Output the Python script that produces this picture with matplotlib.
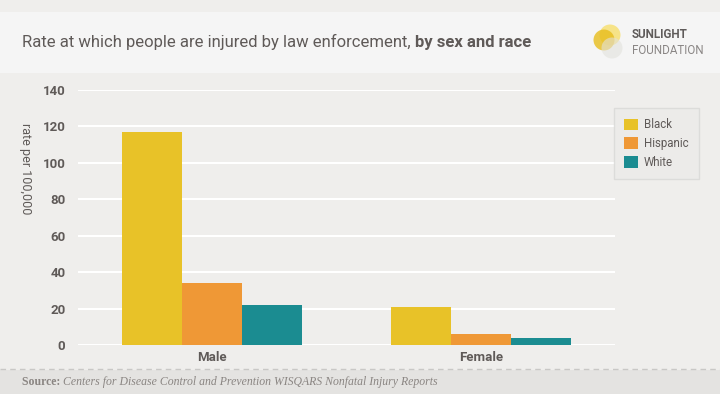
import matplotlib
matplotlib.use("Agg")
import matplotlib.pyplot as plt
from matplotlib.patches import Rectangle, Circle
from matplotlib.lines import Line2D
import numpy as np

# data
sexes = ["Male", "Female"]
races = ["Black", "Hispanic", "White"]
black = [116.7, 21.0]
hispanic = [34.2, 5.9]
white = [21.8, 3.7]
yticks = [0, 20, 40, 60, 80, 100, 120, 140]

colors = ["#e8c228", "#ef9836", "#1b8c91"]
bg = "#efeeec"
txt = "#5f5a58"
sans = ["Roboto", "DejaVu Sans"]

fig = plt.figure(figsize=(7.2, 3.94), dpi=100, facecolor=bg)
renderer = fig.canvas.get_renderer()

# title band
fig.patches.append(Rectangle((0, 0.815), 1, 0.155, transform=fig.transFigure,
                             facecolor="#f5f5f5", edgecolor="none", zorder=0))
t1 = fig.text(22/720, 0.893, "Rate at which people are injured by law enforcement, ",
              fontsize=12, color=txt, va="center", family=sans)
w1 = t1.get_window_extent(renderer).width
fig.text(22/720 + w1/720, 0.893, "by sex and race", fontsize=12, color=txt, va="center",
         fontweight="bold", family=sans)

# logo (pixel positions -> inches)
for (cx, cy, c, a) in [(610, 35, "#f7dc5a", 0.7), (604, 40, "#e8bd1c", 0.8), (612, 48, "#e2e2dc", 0.6)]:
    fig.patches.append(Circle((cx/100, (394-cy)/100), 0.105, transform=fig.dpi_scale_trans,
                              facecolor=c, alpha=a, edgecolor="none", zorder=1))
fig.text(632/720, 1-35/394, "SUNLIGHT", fontsize=8.4, fontweight="bold", color="#5f5b5a",
         va="center", family=sans)
fig.text(632/720, 1-50/394, "FOUNDATION", fontsize=8.4, color="#8a8685",
         va="center", family=sans)

# footer band
fig.patches.append(Rectangle((0, 0), 1, 24/394, transform=fig.transFigure,
                             facecolor="#e4e3e1", edgecolor="none", zorder=0))
fig.lines.append(Line2D([0, 1], [25/394, 25/394], transform=fig.transFigure,
                        color="#c9c8c6", lw=1, ls=(0, (4, 3))))
s1 = fig.text(22/720, 12/394, "Source: ", fontsize=8.5, fontweight="bold", color="#8a8582",
              va="center", family="Liberation Serif")
ws = s1.get_window_extent(renderer).width
fig.text(22/720 + ws/720, 12/394,
         "Centers for Disease Control and Prevention WISQARS Nonfatal Injury Reports",
         fontsize=8.5, style="italic", color="#8a8582", va="center", family="Liberation Serif")

ax = fig.add_axes([78/720, 1-345/394, (615-78)/720, (345-90)/394])
ax.set_facecolor(bg)

x = np.arange(len(sexes))
w = 0.224
for i, (vals, name) in enumerate(zip([black, hispanic, white], races)):
    ax.bar(x + (i-1)*w, vals, w, color=colors[i], label=name, zorder=3)

ax.set_xlim(-0.5, 1.5)
ax.set_ylim(0, 140)
ax.set_yticks(yticks)
ax.set_xticks(x)
ax.set_xticklabels(sexes)
ax.grid(axis="y", color="white", lw=1.5, zorder=1)
for s in ax.spines.values():
    s.set_visible(False)
ax.tick_params(length=0, colors=txt, labelsize=9.5)
ax.tick_params(axis="y", pad=9)
ax.tick_params(axis="x", pad=4)
for lab in ax.get_xticklabels() + ax.get_yticklabels():
    lab.set_fontweight("bold")
    lab.set_family(sans)
ax.set_ylabel("rate per 100,000", rotation=-90, color=txt, fontsize=9, family=sans)
ax.yaxis.set_label_coords(-0.11, 0.69)

leg = fig.legend(loc="upper left", bbox_to_anchor=(614/720, 1-108/394), frameon=True,
                 prop={"family": sans, "size": 8.3}, handlelength=1.2, handleheight=1.2,
                 borderpad=0.9, labelspacing=0.5, handletextpad=0.5, fancybox=False,
                 borderaxespad=0)
leg.get_frame().set_facecolor("#ecebe9")
leg.get_frame().set_edgecolor("#d8d8d6")
for t in leg.get_texts():
    t.set_color(txt)

fig.savefig("out.png", dpi=100, facecolor=bg)
